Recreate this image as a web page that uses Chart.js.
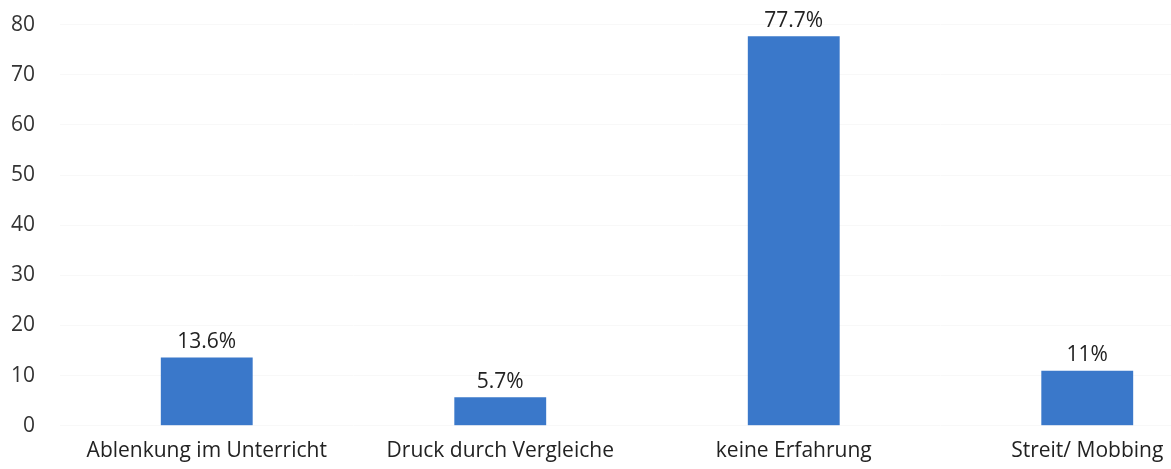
<!DOCTYPE html>
<html><head><meta charset="utf-8">
<script src="https://cdn.jsdelivr.net/npm/chart.js@4/dist/chart.umd.min.js"></script>
<style>html,body{margin:0;padding:0;background:#fff;overflow:hidden;width:1171px;height:469px}canvas{display:block;margin-top:-13px}</style>
</head><body>
<canvas id="c" width="1240" height="482" style="width:1240px;height:482px"></canvas>
<script>
const categories = ["Ablenkung im Unterricht", "Druck durch Vergleiche", "keine Erfahrung", "Streit/ Mobbing"];
const values = [13.6, 5.7, 77.7, 11];
const valueLabels = ["13.6%", "5.7%", "77.7%", "11%"];
const yTicks = [0, 10, 20, 30, 40, 50, 60, 70, 80];

const FONT = "'Open Sans', 'Noto Sans', sans-serif";
const labelPlugin = {
  id: 'valueLabels',
  afterDatasetsDraw(chart) {
    const ctx = chart.ctx;
    const meta = chart.getDatasetMeta(0);
    ctx.save();
    ctx.font = "21px " + FONT;
    ctx.fillStyle = "#222";
    ctx.textAlign = "center";
    ctx.textBaseline = "bottom";
    meta.data.forEach((bar, i) => {
      ctx.fillText(valueLabels[i], bar.x, bar.y - 5);
    });
    ctx.restore();
  }
};

new Chart(document.getElementById('c'), {
  type: 'bar',
  data: {
    labels: categories,
    datasets: [{ data: values, backgroundColor: '#3a78ca', categoryPercentage: 1, barPercentage: 0.313 }]
  },
  options: {
    responsive: false,
    animation: false,
    devicePixelRatio: 1,
    layout: { padding: { left: 10, right: 6, top: 3, bottom: 0 } },
    plugins: { legend: { display: false }, tooltip: { enabled: false } },
    scales: {
      x: {
        grid: { display: false },
        border: { display: false },
        ticks: { font: { family: FONT, size: 21 }, color: '#222', padding: 5, maxRotation: 0, autoSkip: false }
      },
      y: {
        min: 0, max: 80,
        afterBuildTicks(axis) { axis.ticks = yTicks.map(v => ({ value: v })); },
        afterFit(axis) { axis.width = 50; },
        grid: { color: '#f8f8f8', drawTicks: false },
        border: { display: false },
        ticks: { font: { family: FONT, size: 21 }, color: '#333', padding: 25 }
      }
    }
  },
  plugins: [labelPlugin]
});
</script>
</body></html>
